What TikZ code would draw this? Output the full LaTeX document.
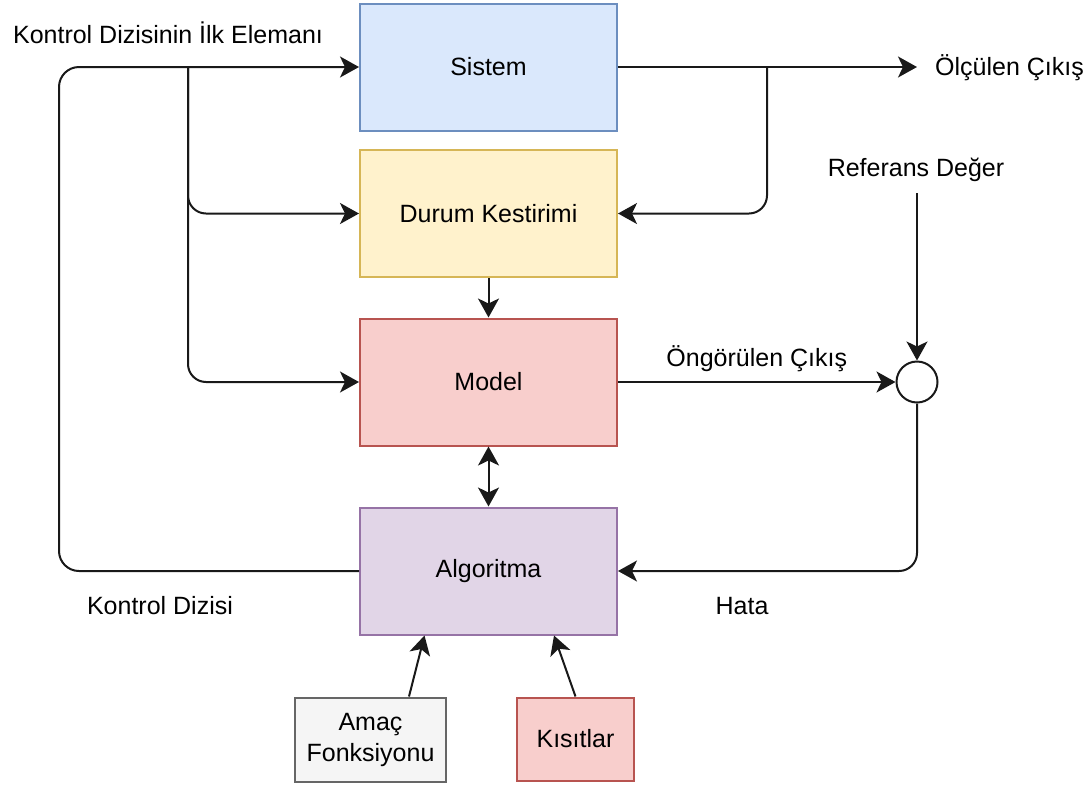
\documentclass[tikz,border=0pt]{standalone}
\usepackage{fontspec}
\setmainfont{Liberation Sans}
\usetikzlibrary{arrows.meta,positioning}

\definecolor{blueF}{HTML}{DAE8FC}\definecolor{blueD}{HTML}{6C8EBF}
\definecolor{yelF}{HTML}{FFF2CC}\definecolor{yelD}{HTML}{D6B656}
\definecolor{redF}{HTML}{F8CECC}\definecolor{redD}{HTML}{B85450}
\definecolor{purF}{HTML}{E1D5E7}\definecolor{purD}{HTML}{9673A6}
\definecolor{grF}{HTML}{F5F5F5}\definecolor{grD}{HTML}{666666}

\tikzset{
  blk/.style={draw=#1D, fill=#1F, line width=2pt, minimum width=257pt,
    minimum height=127pt, inner sep=0pt, align=center},
  lbl/.style={inner sep=0pt, align=center},
  conn/.style={line width=2pt, draw=black!90},
  arr/.style={conn, -{Stealth[length=19pt,width=21pt,inset=5pt]}},
  darr/.style={conn, {Stealth[length=19pt,width=21pt,inset=5pt]}-{Stealth[length=19pt,width=21pt,inset=5pt]}},
}

\begin{document}
\begin{tikzpicture}[x=1pt,y=-1pt,font=\fontsize{25}{31}\selectfont]
\useasboundingbox (0,0) rectangle (1090,785);

% blocks
\node[blk=blue] (sys) at (488.5,67) {Sistem};
\node[blk=yel]  (dur) at (488.5,213.5) {Durum Kestirimi};
\node[blk=red]  (mod) at (488.5,382) {Model};
\node[blk=pur]  (alg) at (488.5,571) {Algoritma};
\node[blk=gr, minimum width=151pt, minimum height=84pt] (amac) at (370.5,739.5) {Amaç\\Fonksiyonu};
\node[blk=red, minimum width=117pt, minimum height=83pt] (kis) at (575.5,739) {Kısıtlar};
\node[circle, draw=black!90, fill=white, line width=2pt, minimum size=41pt, inner sep=0pt] (sum) at (917,382) {};

% free labels
\node[lbl] (lKI) at (168,33) {Kontrol Dizisinin İlk Elemanı};
\node[lbl, anchor=west] (lOut) at (935,68) {Ölçülen Çıkış};
\node[lbl] (lRef) at (916,170) {Referans Değer};
\node[lbl] (lHata) at (742,606) {Hata};
\node[lbl] (lKD) at (160,606) {Kontrol Dizisi};

% junction points on the system's input and output lines
\coordinate (j1) at (188,67);
\coordinate (j2) at (767,67);
\coordinate (oEnd) at (917,67);

% control sequence loop back to the system
\draw[arr, rounded corners=20pt] (alg.west) -- ++(-300,0) |- (sys.west);
\draw[arr, rounded corners=18pt] (j1) |- (dur.west);
\draw[arr, rounded corners=18pt] (j1) |- (mod.west);

% measured output
\draw[arr] (sys.east) -- (oEnd);
\draw[arr, rounded corners=18pt] (j2) |- (dur.east);

% reference and prediction into the comparator
\draw[arr, shorten <=11pt] (sum.north |- lRef.south) -- (sum.north);
\draw[arr] (mod.east) -- node[above=9pt, lbl] (lPred) {Öngörülen Çıkış} (sum.west);
\draw[arr, rounded corners=18pt] (sum.south) |- (alg.east);

% internal links
\draw[arr] (dur.south) -- (mod.north);
\draw[darr] (mod.south) -- (alg.north);
\draw[arr] ([xshift=38.5pt]amac.north) -- ([xshift=-64pt]alg.south);
\draw[arr] (kis.north) -- ([xshift=65.5pt]alg.south);
\end{tikzpicture}
\end{document}
